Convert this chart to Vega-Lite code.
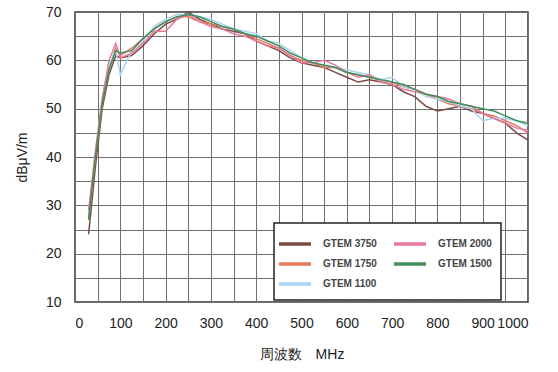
{
"$schema": "https://vega.github.io/schema/vega-lite/v6.json",
"width": 453, "height": 290,
"autosize": "none",
"padding": {"left": 75, "top": 12, "right": 30, "bottom": 70},
"background": "white",
"data": {"values": [
{"f":30,"s":"GTEM 3750","v":24},{"f":45,"s":"GTEM 3750","v":38},{"f":60,"s":"GTEM 3750","v":50},{"f":75,"s":"GTEM 3750","v":57},{"f":90,"s":"GTEM 3750","v":61},{"f":100,"s":"GTEM 3750","v":60.5},{"f":125,"s":"GTEM 3750","v":61},{"f":150,"s":"GTEM 3750","v":63},{"f":175,"s":"GTEM 3750","v":65.5},{"f":200,"s":"GTEM 3750","v":67.5},{"f":225,"s":"GTEM 3750","v":68.5},{"f":250,"s":"GTEM 3750","v":70},{"f":275,"s":"GTEM 3750","v":68.5},{"f":300,"s":"GTEM 3750","v":67.5},{"f":325,"s":"GTEM 3750","v":66.5},{"f":350,"s":"GTEM 3750","v":66},{"f":375,"s":"GTEM 3750","v":65.5},{"f":400,"s":"GTEM 3750","v":64},{"f":425,"s":"GTEM 3750","v":63},{"f":450,"s":"GTEM 3750","v":62},{"f":475,"s":"GTEM 3750","v":60.5},{"f":500,"s":"GTEM 3750","v":59.5},{"f":525,"s":"GTEM 3750","v":59},{"f":550,"s":"GTEM 3750","v":58.5},{"f":575,"s":"GTEM 3750","v":57.5},{"f":600,"s":"GTEM 3750","v":56.5},{"f":625,"s":"GTEM 3750","v":55.5},{"f":650,"s":"GTEM 3750","v":56},{"f":675,"s":"GTEM 3750","v":55.5},{"f":700,"s":"GTEM 3750","v":55},{"f":725,"s":"GTEM 3750","v":53.5},{"f":750,"s":"GTEM 3750","v":52.5},{"f":775,"s":"GTEM 3750","v":50.5},{"f":800,"s":"GTEM 3750","v":49.5},{"f":825,"s":"GTEM 3750","v":50},{"f":850,"s":"GTEM 3750","v":50.5},{"f":875,"s":"GTEM 3750","v":49.5},{"f":900,"s":"GTEM 3750","v":49},{"f":925,"s":"GTEM 3750","v":48},{"f":950,"s":"GTEM 3750","v":47},{"f":975,"s":"GTEM 3750","v":45},{"f":1000,"s":"GTEM 3750","v":43.5},
{"f":30,"s":"GTEM 1750","v":27},{"f":45,"s":"GTEM 1750","v":40},{"f":60,"s":"GTEM 1750","v":51},{"f":75,"s":"GTEM 1750","v":58.5},{"f":90,"s":"GTEM 1750","v":62.5},{"f":100,"s":"GTEM 1750","v":61},{"f":125,"s":"GTEM 1750","v":62.5},{"f":150,"s":"GTEM 1750","v":64.5},{"f":175,"s":"GTEM 1750","v":66.5},{"f":200,"s":"GTEM 1750","v":68},{"f":225,"s":"GTEM 1750","v":69},{"f":250,"s":"GTEM 1750","v":69},{"f":275,"s":"GTEM 1750","v":68},{"f":300,"s":"GTEM 1750","v":67.5},{"f":325,"s":"GTEM 1750","v":67},{"f":350,"s":"GTEM 1750","v":66.5},{"f":375,"s":"GTEM 1750","v":65.5},{"f":400,"s":"GTEM 1750","v":64.5},{"f":425,"s":"GTEM 1750","v":63.5},{"f":450,"s":"GTEM 1750","v":62.5},{"f":475,"s":"GTEM 1750","v":61},{"f":500,"s":"GTEM 1750","v":60},{"f":525,"s":"GTEM 1750","v":59.5},{"f":550,"s":"GTEM 1750","v":58.5},{"f":575,"s":"GTEM 1750","v":58.5},{"f":600,"s":"GTEM 1750","v":57.5},{"f":625,"s":"GTEM 1750","v":57},{"f":650,"s":"GTEM 1750","v":56.5},{"f":675,"s":"GTEM 1750","v":56},{"f":700,"s":"GTEM 1750","v":55.5},{"f":725,"s":"GTEM 1750","v":54.5},{"f":750,"s":"GTEM 1750","v":54},{"f":775,"s":"GTEM 1750","v":53},{"f":800,"s":"GTEM 1750","v":52},{"f":825,"s":"GTEM 1750","v":51},{"f":850,"s":"GTEM 1750","v":50.5},{"f":875,"s":"GTEM 1750","v":50},{"f":900,"s":"GTEM 1750","v":49},{"f":925,"s":"GTEM 1750","v":48.5},{"f":950,"s":"GTEM 1750","v":47.5},{"f":975,"s":"GTEM 1750","v":46.5},{"f":1000,"s":"GTEM 1750","v":45},
{"f":30,"s":"GTEM 1100","v":28},{"f":45,"s":"GTEM 1100","v":41},{"f":60,"s":"GTEM 1100","v":52},{"f":75,"s":"GTEM 1100","v":59},{"f":90,"s":"GTEM 1100","v":62},{"f":100,"s":"GTEM 1100","v":57},{"f":125,"s":"GTEM 1100","v":62},{"f":150,"s":"GTEM 1100","v":64},{"f":175,"s":"GTEM 1100","v":67},{"f":200,"s":"GTEM 1100","v":68.5},{"f":225,"s":"GTEM 1100","v":69.5},{"f":250,"s":"GTEM 1100","v":69.5},{"f":275,"s":"GTEM 1100","v":69},{"f":300,"s":"GTEM 1100","v":68.5},{"f":325,"s":"GTEM 1100","v":67.5},{"f":350,"s":"GTEM 1100","v":66.5},{"f":375,"s":"GTEM 1100","v":66},{"f":400,"s":"GTEM 1100","v":65.5},{"f":425,"s":"GTEM 1100","v":64},{"f":450,"s":"GTEM 1100","v":63.5},{"f":475,"s":"GTEM 1100","v":62},{"f":500,"s":"GTEM 1100","v":60.5},{"f":525,"s":"GTEM 1100","v":59.5},{"f":550,"s":"GTEM 1100","v":59},{"f":575,"s":"GTEM 1100","v":58.5},{"f":600,"s":"GTEM 1100","v":58},{"f":625,"s":"GTEM 1100","v":57.5},{"f":650,"s":"GTEM 1100","v":57},{"f":675,"s":"GTEM 1100","v":56},{"f":700,"s":"GTEM 1100","v":56.5},{"f":725,"s":"GTEM 1100","v":54.5},{"f":750,"s":"GTEM 1100","v":54},{"f":775,"s":"GTEM 1100","v":52.5},{"f":800,"s":"GTEM 1100","v":52},{"f":825,"s":"GTEM 1100","v":51.5},{"f":850,"s":"GTEM 1100","v":50.5},{"f":875,"s":"GTEM 1100","v":50},{"f":900,"s":"GTEM 1100","v":47.5},{"f":925,"s":"GTEM 1100","v":48},{"f":950,"s":"GTEM 1100","v":48},{"f":975,"s":"GTEM 1100","v":47.5},{"f":1000,"s":"GTEM 1100","v":46.5},
{"f":30,"s":"GTEM 2000","v":29},{"f":45,"s":"GTEM 2000","v":41},{"f":60,"s":"GTEM 2000","v":52},{"f":75,"s":"GTEM 2000","v":60},{"f":90,"s":"GTEM 2000","v":63.5},{"f":100,"s":"GTEM 2000","v":60.5},{"f":125,"s":"GTEM 2000","v":61.5},{"f":150,"s":"GTEM 2000","v":63.5},{"f":175,"s":"GTEM 2000","v":66},{"f":200,"s":"GTEM 2000","v":66},{"f":225,"s":"GTEM 2000","v":68.5},{"f":250,"s":"GTEM 2000","v":69.5},{"f":275,"s":"GTEM 2000","v":68},{"f":300,"s":"GTEM 2000","v":67},{"f":325,"s":"GTEM 2000","v":66.5},{"f":350,"s":"GTEM 2000","v":65.5},{"f":375,"s":"GTEM 2000","v":65},{"f":400,"s":"GTEM 2000","v":64},{"f":425,"s":"GTEM 2000","v":63},{"f":450,"s":"GTEM 2000","v":62.5},{"f":475,"s":"GTEM 2000","v":61},{"f":500,"s":"GTEM 2000","v":59.5},{"f":525,"s":"GTEM 2000","v":59.5},{"f":550,"s":"GTEM 2000","v":60},{"f":575,"s":"GTEM 2000","v":59},{"f":600,"s":"GTEM 2000","v":57.5},{"f":625,"s":"GTEM 2000","v":56.5},{"f":650,"s":"GTEM 2000","v":57},{"f":675,"s":"GTEM 2000","v":55.5},{"f":700,"s":"GTEM 2000","v":55},{"f":725,"s":"GTEM 2000","v":54},{"f":750,"s":"GTEM 2000","v":53.5},{"f":775,"s":"GTEM 2000","v":53},{"f":800,"s":"GTEM 2000","v":52.5},{"f":825,"s":"GTEM 2000","v":52},{"f":850,"s":"GTEM 2000","v":51},{"f":875,"s":"GTEM 2000","v":50.5},{"f":900,"s":"GTEM 2000","v":49},{"f":925,"s":"GTEM 2000","v":48},{"f":950,"s":"GTEM 2000","v":47},{"f":975,"s":"GTEM 2000","v":46},{"f":1000,"s":"GTEM 2000","v":45.5},
{"f":30,"s":"GTEM 1500","v":27},{"f":45,"s":"GTEM 1500","v":40},{"f":60,"s":"GTEM 1500","v":51},{"f":75,"s":"GTEM 1500","v":58},{"f":90,"s":"GTEM 1500","v":62},{"f":100,"s":"GTEM 1500","v":61.5},{"f":125,"s":"GTEM 1500","v":62},{"f":150,"s":"GTEM 1500","v":64.5},{"f":175,"s":"GTEM 1500","v":66.5},{"f":200,"s":"GTEM 1500","v":68},{"f":225,"s":"GTEM 1500","v":69},{"f":250,"s":"GTEM 1500","v":69.5},{"f":275,"s":"GTEM 1500","v":69},{"f":300,"s":"GTEM 1500","v":68},{"f":325,"s":"GTEM 1500","v":67},{"f":350,"s":"GTEM 1500","v":66.5},{"f":375,"s":"GTEM 1500","v":65.5},{"f":400,"s":"GTEM 1500","v":65},{"f":425,"s":"GTEM 1500","v":64},{"f":450,"s":"GTEM 1500","v":63},{"f":475,"s":"GTEM 1500","v":61.5},{"f":500,"s":"GTEM 1500","v":60.5},{"f":525,"s":"GTEM 1500","v":59.5},{"f":550,"s":"GTEM 1500","v":59},{"f":575,"s":"GTEM 1500","v":58.5},{"f":600,"s":"GTEM 1500","v":57.5},{"f":625,"s":"GTEM 1500","v":57},{"f":650,"s":"GTEM 1500","v":56.5},{"f":675,"s":"GTEM 1500","v":56},{"f":700,"s":"GTEM 1500","v":55.5},{"f":725,"s":"GTEM 1500","v":55},{"f":750,"s":"GTEM 1500","v":54},{"f":775,"s":"GTEM 1500","v":53},{"f":800,"s":"GTEM 1500","v":52.5},{"f":825,"s":"GTEM 1500","v":51.5},{"f":850,"s":"GTEM 1500","v":51},{"f":875,"s":"GTEM 1500","v":50.5},{"f":900,"s":"GTEM 1500","v":50},{"f":925,"s":"GTEM 1500","v":49.5},{"f":950,"s":"GTEM 1500","v":48.5},{"f":975,"s":"GTEM 1500","v":47.5},{"f":1000,"s":"GTEM 1500","v":47}
]},
"mark": {"type": "line", "strokeWidth": 1.5, "clip": true},
"encoding": {
  "x": {"field": "f", "type": "quantitative",
        "scale": {"domain": [0, 1000], "nice": false},
        "axis": {"title": "周波数　MHz",
                 "values": [0,50,100,150,200,250,300,350,400,450,500,550,600,650,700,750,800,850,900,950,1000],
                 "labelExpr": "datum.value % 100 == 0 ? datum.label : ''",
                 "format": "d"}},
  "y": {"field": "v", "type": "quantitative",
        "scale": {"domain": [10, 70], "nice": false, "zero": false},
        "axis": {"title": "dBμV/m",
                 "values": [10,15,20,25,30,35,40,45,50,55,60,65,70],
                 "labelExpr": "datum.value % 10 == 0 ? datum.label : ''"}},
  "color": {"field": "s", "type": "nominal",
            "scale": {"domain": ["GTEM 3750","GTEM 2000","GTEM 1750","GTEM 1500","GTEM 1100"],
                      "range": ["#7b4a46","#e8799a","#e87a5a","#3f8f5a","#a9d3f1"]},
            "legend": {"title": null, "orient": "none", "legendX": 199, "legendY": 211,
                       "columns": 2, "direction": "horizontal",
                       "symbolType": "M-1.6,0H1.6", "symbolSize": 400, "symbolStrokeWidth": 3.5,
                       "labelOffset": 16, "labelFontSize": 10, "labelFontWeight": "bold", "labelColor": "#444",
                       "labelFont": "Liberation Sans",
                       "columnPadding": 10, "rowPadding": 1,
                       "padding": 9, "fillColor": "white", "strokeColor": "#222"}}
},
"config": {
  "font": "Liberation Sans",
  "view": {"stroke": "#333", "strokeWidth": 1.5},
  "legend": {"strokeWidth": 1.5},
  "axis": {"domain": false, "ticks": false, "grid": true, "gridColor": "#6f6f6f", "gridOpacity": 1, "gridWidth": 1,
           "labelFont": "Liberation Sans", "labelFontSize": 14, "labelColor": "#222",
           "titleFont": "Liberation Sans", "titleFontSize": 14, "titleFontWeight": "normal", "titleColor": "#222"},
  "axisX": {"labelPadding": 14, "titlePadding": 17},
  "axisY": {"labelPadding": 14, "titlePadding": 16}
}
}
